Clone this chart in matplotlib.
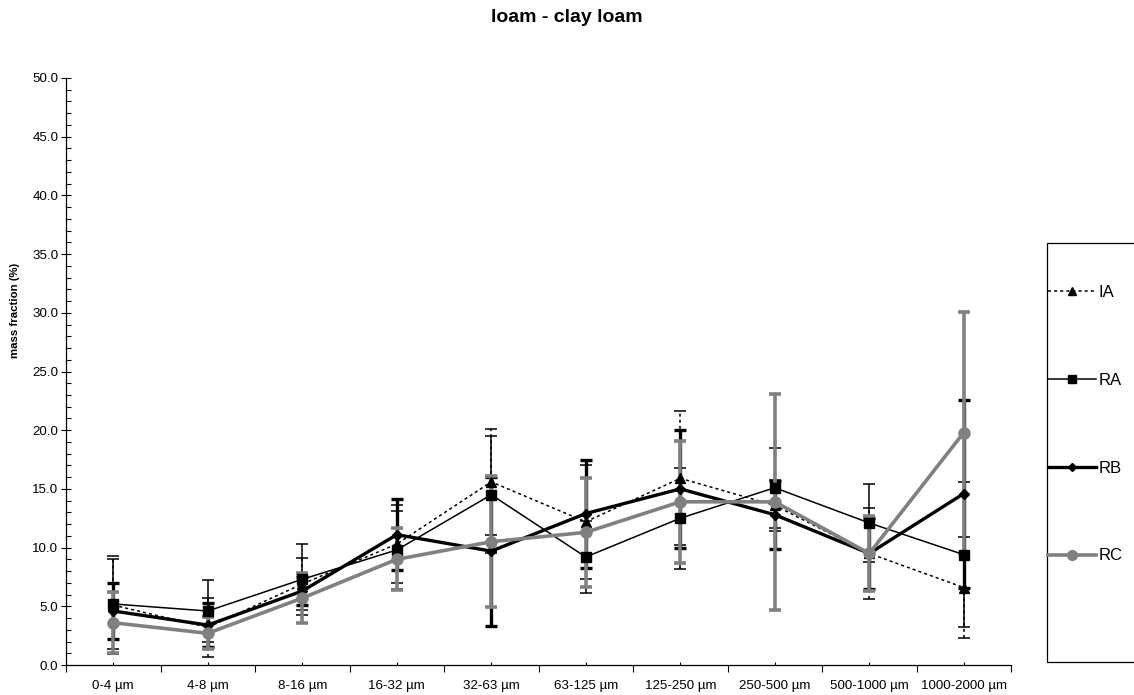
import matplotlib
matplotlib.use("Agg")
import matplotlib.pyplot as plt
from matplotlib.lines import Line2D
from matplotlib.patches import Rectangle
from matplotlib.ticker import MultipleLocator, FixedLocator, NullFormatter

plt.rcParams['font.family'] = ['Liberation Sans', 'DejaVu Sans']

categories = ['0-4 µm', '4-8 µm', '8-16 µm', '16-32 µm', '32-63 µm', '63-125 µm',
              '125-250 µm', '250-500 µm', '500-1000 µm', '1000-2000 µm']

IA = [5.1, 3.2, 6.9, 10.3, 15.6, 12.2, 15.9, 13.6, 9.5, 6.6]
IA_err = [4.2, 2.5, 2.2, 3.3, 4.5, 4.85, 5.7, 2.2, 3.9, 4.3]
RA = [5.2, 4.6, 7.3, 9.8, 14.5, 9.2, 12.5, 15.1, 12.1, 9.4]
RA_err = [3.8, 2.6, 3.0, 3.3, 5.0, 3.1, 4.3, 3.4, 3.3, 6.2]
RB = [4.6, 3.4, 6.3, 11.1, 9.7, 12.9, 15.0, 12.8, 9.5, 14.6]
RB_err = [2.4, 1.85, 1.2, 3.0, 6.35, 4.6, 5.0, 2.9, 3.0, 8.0]
RC = [3.6, 2.7, 5.7, 9.0, 10.5, 11.3, 13.9, 13.9, 9.5, 19.8]
RC_err = [2.6, 1.35, 2.15, 2.65, 5.6, 4.65, 5.2, 9.2, 3.2, 10.3]

series_names = ['IA', 'RA', 'RB', 'RC']

W, H = 1134, 695
fig = plt.figure(figsize=(W / 100, H / 100), dpi=100)
ax = fig.add_axes([66 / W, 1 - 665 / H, (1011 - 66) / W, (665 - 78) / H])

x = list(range(len(categories)))
dotted = (0, (2, 2))

styles = {
    'IA': dict(color='black', lw=1.1, ls=dotted, marker='^', ms=7, elw=1.1),
    'RA': dict(color='black', lw=1.1, ls='-', marker='s', ms=7, elw=1.1),
    'RB': dict(color='black', lw=2.4, ls='-', marker='D', ms=5, elw=2.4),
    'RC': dict(color='#808080', lw=2.6, ls='-', marker='o', ms=8, elw=2.6),
}
data = {'IA': (IA, IA_err), 'RA': (RA, RA_err), 'RB': (RB, RB_err), 'RC': (RC, RC_err)}

handles = []
for name in series_names:
    vals, errs = data[name]
    st = styles[name]
    cont = ax.errorbar(x, vals, yerr=errs, color=st['color'], lw=st['lw'], ls=st['ls'],
                       marker=st['marker'], ms=st['ms'], mec=st['color'], mfc=st['color'],
                       elinewidth=st['elw'], capsize=4.5, capthick=st['elw'])
    if name == 'IA':
        for bl in cont[2]:
            bl.set_linestyle(dotted)
    handles.append(Line2D([], [], color=st['color'], lw=st['lw'], ls=st['ls'],
                          marker=st['marker'], ms=st['ms'] - 1, mec=st['color'],
                          mfc=st['color']))

ax.set_xlim(-0.5, len(categories) - 0.5)
ax.set_ylim(0, 50)
ax.yaxis.set_major_locator(MultipleLocator(5))
ax.yaxis.set_minor_locator(MultipleLocator(1))
ax.yaxis.set_major_formatter(matplotlib.ticker.FormatStrFormatter('%.1f'))
ax.tick_params(axis='y', which='major', direction='inout', length=7, width=0.8,
               labelsize=9.6, pad=2)
ax.tick_params(axis='y', which='minor', direction='in', length=3.5, width=0.8)

ax.xaxis.set_major_locator(FixedLocator([i - 0.5 for i in range(len(categories) + 1)]))
ax.xaxis.set_major_formatter(NullFormatter())
ax.xaxis.set_minor_locator(FixedLocator(x))
ax.set_xticklabels(categories, minor=True)
ax.tick_params(axis='x', which='major', direction='out', length=5, width=0.8)
ax.tick_params(axis='x', which='minor', direction='in', length=2, width=0.8,
               labelsize=9.6, pad=11)

for s in ['top', 'right']:
    ax.spines[s].set_visible(False)
for s in ['left', 'bottom']:
    ax.spines[s].set_linewidth(0.9)

fig.text(15 / W, 1 - 310 / H, 'mass fraction (%)', rotation=90, ha='center',
         va='center', fontsize=8.2, fontweight='bold')
fig.text(567 / W, 1 - 18 / H, 'loam - clay loam', ha='center', va='center',
         fontsize=14, fontweight='bold')

# legend box (extends beyond the right edge, as in the reference)
fig.patches.append(Rectangle((1047 / W, 1 - 662 / H), 120 / W, (662 - 243) / H,
                             transform=fig.transFigure, fill=False, ec='black', lw=0.9))
fig.legend(handles, series_names, loc='upper left',
           bbox_to_anchor=(1048 / W, 1 - 285 / H), frameon=False, fontsize=12,
           handlelength=2.9, handletextpad=0.15, labelspacing=4.37, borderaxespad=0,
           borderpad=0)

fig.savefig('out.png', dpi=100)
